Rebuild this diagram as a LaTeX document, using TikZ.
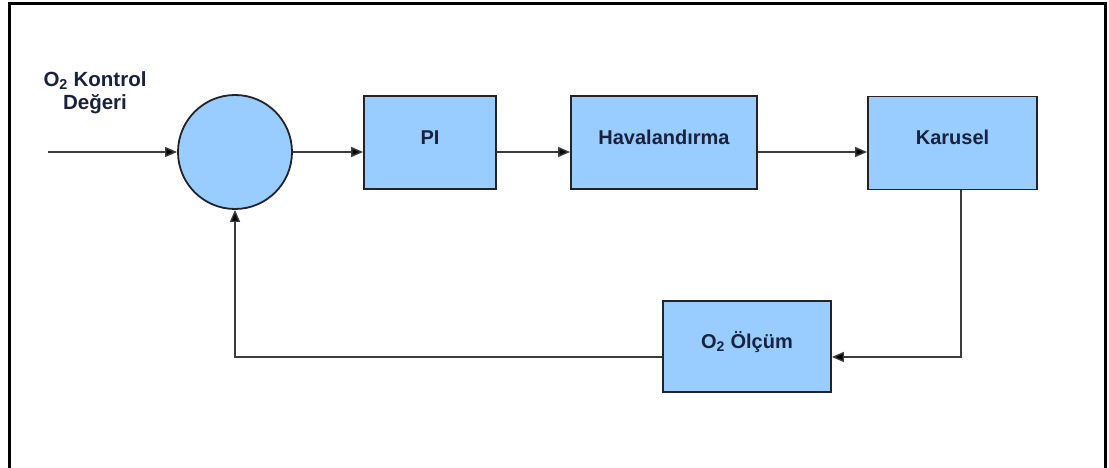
\documentclass[tikz,border=0pt]{standalone}
\usepackage{fontspec}
\setmainfont{Liberation Sans}
\usetikzlibrary{arrows.meta}
\definecolor{boxfill}{RGB}{153,204,255}
\definecolor{boxline}{RGB}{35,35,40}
\definecolor{labeltext}{RGB}{24,34,60}
\definecolor{wirecol}{RGB}{60,60,60}
\begin{document}
\begin{tikzpicture}[x=1pt,y=-1pt,
  block/.style={draw=boxline, line width=1.8pt, fill=boxfill, inner sep=0pt,
    minimum height=93pt, text height=15pt, text depth=11.3pt,
    font=\bfseries\fontsize{20}{24}\selectfont, text=labeltext},
  sumjunction/.style={circle, draw=boxline, line width=1.8pt, fill=boxfill,
    minimum size=114pt, inner sep=0pt},
  wire/.style={draw=wirecol, line width=1.4pt},
  flow/.style={wire, -{Triangle[length=12pt,width=10pt,fill=black]}}
]
\useasboundingbox (0,0) rectangle (1109,468);

% frame
\draw[line width=3pt] (9,468) -- (9,4) -- (1105,4) -- (1105,468);

% blocks
\node[sumjunction] (sum) at (235,152) {};
\node[block, minimum width=132pt] (pi) at (430,142.5) {PI};
\node[block, minimum width=186pt] (hav) at (664,142.5) {Havalandırma};
\node[block, minimum width=169pt] (kar) at (952.5,143) {Karusel};
\node[block, minimum width=168pt, minimum height=91pt] (olc) at (747,346.5) {O\textsubscript{2} Ölçüm};

% reference input label
\node[font=\bfseries\fontsize{20.5}{23}\selectfont, text=labeltext, align=center, inner sep=0pt]
  (ref) at (95,93) {O\textsubscript{2} Kontrol\\Değeri};

\coordinate (in) at (48,152);
\coordinate (fb) at (961,357);

% forward path
\draw[flow] (in) -- (sum.west);
\draw[flow] (sum.east) -- (pi.west |- sum.east);
\draw[flow] (pi.east |- sum.east) -- (hav.west |- sum.east);
\draw[flow] (hav.east |- sum.east) -- (kar.west |- sum.east);

% feedback path
\draw[flow] (kar.south -| fb) -- (fb) -- (olc.east |- fb);
\draw[flow] (olc.west |- fb) -- (sum.south |- fb) -- (sum.south);
\end{tikzpicture}
\end{document}
